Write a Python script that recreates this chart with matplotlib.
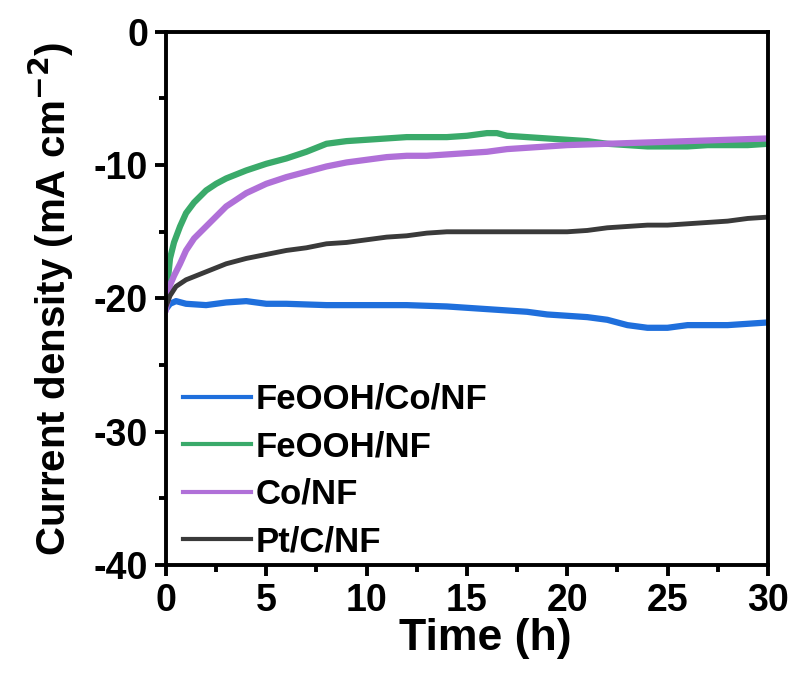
import numpy as np
import matplotlib
matplotlib.use("Agg")
import matplotlib.pyplot as plt
from matplotlib.ticker import MultipleLocator

plt.rcParams['font.family'] = ['Liberation Sans', 'DejaVu Sans']
plt.rcParams['font.weight'] = 'bold'
plt.rcParams['mathtext.default'] = 'bf'
plt.rcParams['axes.unicode_minus'] = False

# chronoamperometry traces (time in h, current density in mA cm^-2)
t_feooh_co = [0, 0.2, 0.5, 1, 2, 3, 4, 5, 6, 8, 10, 12, 14, 15, 16, 17, 18, 19,
              20, 21, 22, 23, 24, 25, 26, 27, 28, 29, 30]
j_feooh_co = [-20.8, -20.4, -20.2, -20.4, -20.5, -20.3, -20.2, -20.4, -20.4, -20.5,
              -20.5, -20.5, -20.6, -20.7, -20.8, -20.9, -21.0, -21.2, -21.3, -21.4,
              -21.6, -22.0, -22.2, -22.2, -22.0, -22.0, -22.0, -21.9, -21.8]

t_feooh = [0, 0.1, 0.2, 0.4, 0.7, 1.0, 1.4, 2, 2.5, 3, 4, 5, 6, 7, 8, 9, 10, 11, 12,
           13, 14, 15, 16, 16.5, 17, 18, 19, 20, 21, 22, 23, 24, 25, 26, 27, 28, 29, 30]
j_feooh = [-20.0, -18.5, -17.0, -15.8, -14.6, -13.6, -12.8, -11.9, -11.4, -11.0,
           -10.4, -9.9, -9.5, -9.0, -8.4, -8.2, -8.1, -8.0, -7.9, -7.9, -7.9, -7.8,
           -7.6, -7.6, -7.8, -7.9, -8.0, -8.1, -8.2, -8.4, -8.5, -8.6, -8.6, -8.6,
           -8.5, -8.5, -8.5, -8.4]

t_co = [0, 0.1, 0.2, 0.4, 0.7, 1.0, 1.4, 2, 3, 4, 5, 6, 7, 8, 9, 10, 11, 12, 13, 14,
        15, 16, 17, 18, 19, 20, 22, 24, 26, 28, 30]
j_co = [-20.8, -20.0, -19.0, -18.3, -17.4, -16.4, -15.5, -14.6, -13.1, -12.1, -11.4,
        -10.9, -10.5, -10.1, -9.8, -9.6, -9.4, -9.3, -9.3, -9.2, -9.1, -9.0, -8.8,
        -8.7, -8.6, -8.5, -8.4, -8.3, -8.2, -8.1, -8.0]

t_ptc = [0, 0.2, 0.5, 1, 1.5, 2, 3, 4, 5, 6, 7, 8, 9, 10, 11, 12, 13, 14, 15, 16, 17,
         18, 19, 20, 21, 22, 23, 24, 25, 26, 27, 28, 29, 30]
j_ptc = [-20.6, -19.8, -19.1, -18.6, -18.3, -18.0, -17.4, -17.0, -16.7, -16.4, -16.2,
         -15.9, -15.8, -15.6, -15.4, -15.3, -15.1, -15.0, -15.0, -15.0, -15.0, -15.0,
         -15.0, -15.0, -14.9, -14.7, -14.6, -14.5, -14.5, -14.4, -14.3, -14.2, -14.0,
         -13.9]

fig = plt.figure(figsize=(7.95, 6.76), dpi=100)
ax = fig.add_axes([0.2088, 0.164, 0.757, 0.789])

ax.plot(t_feooh_co, j_feooh_co, color='#1f6fdc', lw=4.5, label='FeOOH/Co/NF')
ax.plot(t_feooh, j_feooh, color='#3aaa6a', lw=4.5, label='FeOOH/NF')
ax.plot(t_co, j_co, color='#b070d8', lw=4.5, label='Co/NF')
ax.plot(t_ptc, j_ptc, color='#3a3a3a', lw=3.5, label='Pt/C/NF')

ax.set_xlim(0, 30)
ax.set_ylim(-40, 0)
ax.xaxis.set_major_locator(MultipleLocator(5))
ax.xaxis.set_minor_locator(MultipleLocator(2.5))
ax.yaxis.set_major_locator(MultipleLocator(10))
ax.yaxis.set_minor_locator(MultipleLocator(5))

for s in ax.spines.values():
    s.set_linewidth(2.8)
ax.tick_params(which='major', direction='out', length=8, width=2.8,
               labelsize=27, pad=5)
ax.tick_params(which='minor', direction='out', length=5, width=2.8)

ax.set_xlabel('Time (h)', fontsize=32, fontweight='bold')
ax.xaxis.set_label_coords(0.53, -0.1)
ax.set_ylabel('Current density (mA cm$^{-2}$)', fontsize=29, fontweight='bold',
              labelpad=13)

leg = ax.legend(loc='lower left', frameon=False, fontsize=25, handlelength=1.95,
                handletextpad=0.12, labelspacing=0.42, borderaxespad=0.1,
                bbox_to_anchor=(0.0, -0.02))
for h in leg.get_lines():
    h.set_linewidth(3)

fig.savefig('out.png', dpi=100)
